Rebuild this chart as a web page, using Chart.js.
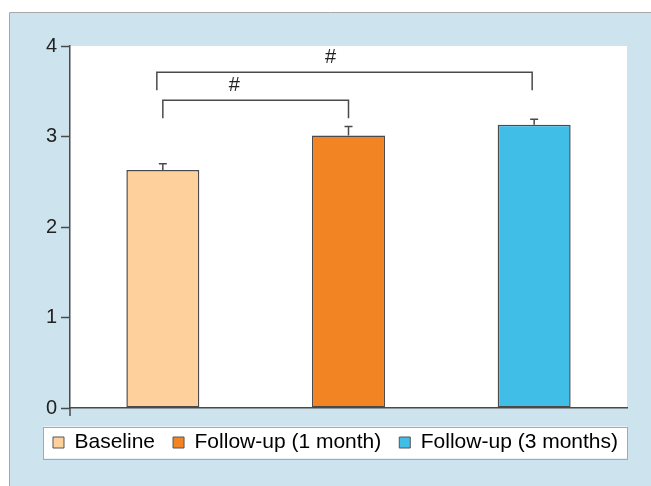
<!DOCTYPE html>
<html>
<head>
<meta charset="utf-8">
<script src="https://cdn.jsdelivr.net/npm/chart.js@4.4.1/dist/chart.umd.min.js"></script>
<style>
    html, body { margin: 0; padding: 0; background: #fff; }
    #wrap { position: relative; width: 651px; height: 486px; }
</style>
</head>
<body>
<div id="wrap"><canvas id="chart"></canvas></div>
<script>
// data
const groups = ['Baseline', 'Follow-up (1 month)', 'Follow-up (3 months)'];
const means = [2.63, 3.01, 3.13];
const errorTops = [2.70, 3.11, 3.19];
const yTicks = [0, 1, 2, 3, 4];
// significance brackets: from group -> to group, at level, with label
const bracketFrom = [0, 0];
const bracketTo = [1, 2];
const bracketLevels = [3.40, 3.71];
const bracketLabels = ['#', '#'];

const barColors = ['#fdd09c', '#f28423', '#41bee8'];
const lineColor = '#4a4a4a';
const fontFamily = '"Liberation Sans", Arial, sans-serif';

// panel, white plot area and white legend box
const backdrop = {
    id: 'backdrop',
    beforeDraw(chart) {
        const { ctx, width, height, chartArea: a, legend } = chart;
        ctx.save();
        ctx.fillStyle = '#fff';
        ctx.fillRect(0, 0, width, height);
        ctx.fillStyle = '#cde4ef';
        ctx.fillRect(10, 13, width - 10, height - 13);
        ctx.strokeStyle = '#a8a8a8';
        ctx.lineWidth = 1;
        ctx.beginPath();
        ctx.moveTo(9.5, height);
        ctx.lineTo(9.5, 12.5);
        ctx.lineTo(width, 12.5);
        ctx.stroke();
        ctx.fillStyle = '#fff';
        ctx.fillRect(a.left, a.top, a.right - a.left, a.bottom - a.top);

        const boxes = legend.legendHitBoxes;
        if (boxes && boxes.length) {
            const first = boxes[0];
            const last = boxes[boxes.length - 1];
            const cy = first.top + first.height / 2;
            const x0 = first.left - 9.5;
            const x1 = last.left + last.width + 9;
            ctx.fillStyle = '#fff';
            ctx.fillRect(x0, cy - 16, x1 - x0, 32);
            ctx.strokeStyle = '#a8a8a8';
            ctx.strokeRect(Math.round(x0) + 0.5, Math.round(cy - 16) + 0.5, Math.round(x1 - x0), 32);
        }
        ctx.restore();
    }
};

// nudge legend row horizontally
const legendShift = {
    id: 'legendShift',
    afterLayout(chart, args, opts) {
        chart.legend.left += opts.dx;
        chart.legend.right += opts.dx;
    }
};

// error bars and significance brackets
const annotations = {
    id: 'annotations',
    afterDatasetsDraw(chart) {
        const { ctx, scales: { y } } = chart;
        const bars = chart.getDatasetMeta(0).data;
        ctx.save();
        ctx.strokeStyle = lineColor;
        ctx.lineWidth = 1.5;

        bars.forEach((bar, i) => {
            const yTop = y.getPixelForValue(errorTops[i]);
            ctx.beginPath();
            ctx.moveTo(bar.x, bar.y);
            ctx.lineTo(bar.x, yTop);
            ctx.moveTo(bar.x - 4, yTop);
            ctx.lineTo(bar.x + 4, yTop);
            ctx.stroke();
        });

        const nudgeLeft = [0, -6];
        const nudgeRight = [0, -2];
        const labelAt = [0.385, 0.463];
        ctx.fillStyle = '#222';
        ctx.font = '20px ' + fontFamily;
        ctx.textAlign = 'center';
        ctx.textBaseline = 'middle';
        bracketLevels.forEach((level, k) => {
            const xl = bars[bracketFrom[k]].x + nudgeLeft[k];
            const xr = bars[bracketTo[k]].x + nudgeRight[k];
            const yb = y.getPixelForValue(level);
            ctx.beginPath();
            ctx.moveTo(xl, yb + 18);
            ctx.lineTo(xl, yb);
            ctx.lineTo(xr, yb);
            ctx.lineTo(xr, yb + 18);
            ctx.stroke();
            ctx.fillText(bracketLabels[k], xl + (xr - xl) * labelAt[k], yb - 15);
        });

        // y axis runs a little past zero
        const a = chart.chartArea;
        ctx.beginPath();
        ctx.moveTo(a.left, a.bottom);
        ctx.lineTo(a.left, a.bottom + 8);
        ctx.stroke();
        ctx.restore();
    }
};

new Chart(document.getElementById('chart'), {
    type: 'bar',
    data: {
        labels: groups,
        datasets: [
            {
                label: 'Score',
                data: means,
                backgroundColor: barColors,
                borderColor: lineColor,
                borderWidth: 1.5,
                borderSkipped: false,
                categoryPercentage: 1,
                barPercentage: 0.393,
            },
        ],
    },
    options: {
        responsive: true,
        maintainAspectRatio: false,
        animation: false,
        events: [],
        layout: {
            padding: { top: 46, right: 24, bottom: 23, left: 0 }
        },
        plugins: {
            legendShift: { dx: 22 },
            tooltip: { enabled: false },
            legend: {
                position: 'bottom',
                labels: {
                    font: { family: fontFamily, size: 21 },
                    color: '#222',
                    boxWidth: 11,
                    boxHeight: 11,
                    padding: 18,
                    generateLabels: function (chart) {
                        return groups.map((g, i) => ({
                            text: g,
                            fillStyle: barColors[i],
                            strokeStyle: '#555',
                            lineWidth: 1,
                            hidden: false,
                            index: i,
                        }));
                    }
                }
            }
        },
        scales: {
            x: {
                type: 'category',
                ticks: { display: false },
                grid: { display: false },
                border: { color: lineColor, width: 1.5 },
                afterFit: function (scale) { scale.height = 6; }
            },
            y: {
                min: 0,
                max: 4,
                afterBuildTicks: function (scale) {
                    scale.ticks = yTicks.map(v => ({ value: v }));
                },
                ticks: {
                    color: '#222',
                    padding: 4,
                    font: { family: fontFamily, size: 20 },
                },
                grid: {
                    drawOnChartArea: false,
                    drawTicks: true,
                    tickLength: 9,
                    tickWidth: 1.5,
                    tickColor: lineColor,
                },
                border: { color: lineColor, width: 1.5 },
                afterFit: function (scale) { scale.width = 70; }
            }
        }
    },
    plugins: [backdrop, legendShift, annotations]
});
</script>
</body>
</html>
